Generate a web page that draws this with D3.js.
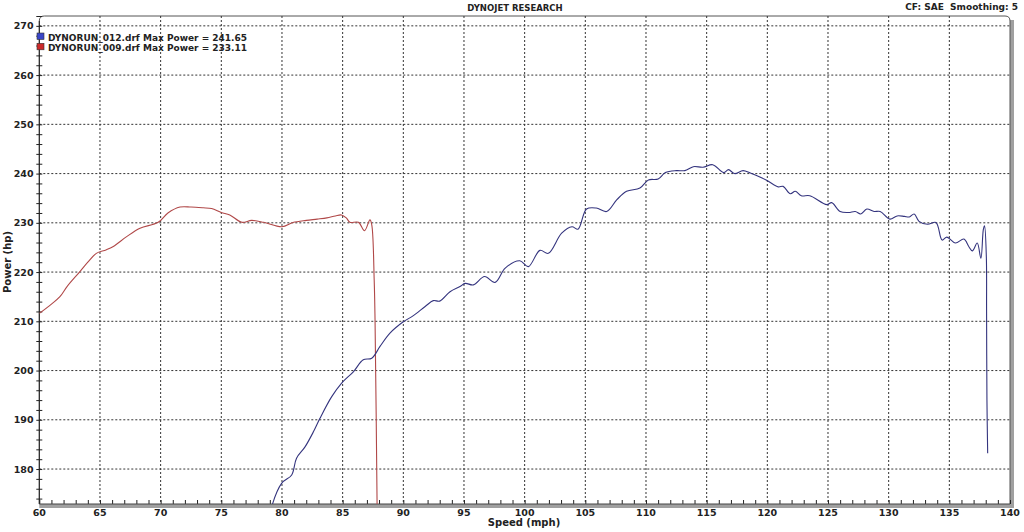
<!DOCTYPE html>
<html>
<head>
<meta charset="utf-8">
<script src="https://cdn.jsdelivr.net/npm/d3@7"></script>
<style>
  body { margin: 0; background: #fff; }
  text { font-family: "DejaVu Sans", Verdana, sans-serif; font-weight: bold; fill: #222; }
</style>
</head>
<body>
<script>
// run 012 (blue) - speed in mph, power in hp
var run012Speed = [79.0, 79.15, 79.97, 80.8, 81.2, 81.9, 82.6, 83.13, 84.1, 84.9, 85.9, 86.7, 87.4, 88.08, 88.9,
  90.0, 90.8, 91.8, 92.47, 93.0, 93.85, 94.67, 95.1, 95.77, 96.7, 97.56, 98.4, 99.6, 100.3, 101.26, 101.95,
  103.05, 103.9, 104.4, 105.1, 105.9, 106.76, 107.6, 108.4, 109.5, 110.2, 111.0, 111.6, 112.5, 113.2, 113.9,
  114.7, 115.5, 116.4, 116.8, 117.3, 118.0, 118.6, 119.9, 120.9, 121.3, 121.9, 122.3, 122.8, 123.5, 124.9,
  125.3, 126.0, 126.7, 127.25, 127.7, 128.2, 128.8, 129.3, 130.1, 130.7, 131.3, 131.7, 132.1, 132.5, 133.2,
  133.9, 134.4, 134.8, 135.5, 136.2, 136.6, 136.9, 137.3, 137.6, 137.8, 137.9, 138.05, 138.07, 138.1, 138.16];
var run012Power = [170, 172.3, 177.1, 178.8, 182.2, 184.5, 187.6, 190.3, 194.7, 197.4, 199.8, 202.2, 202.5, 204.9, 207.6,
  209.9, 211.1, 213.0, 214.2, 214.1, 216.0, 217.05, 217.7, 217.4, 219.1, 217.9, 220.8, 222.3, 221.1, 224.4, 223.8,
  227.9, 229.2, 228.7, 232.8, 233.0, 232.3, 234.7, 236.4, 237.05, 238.7, 238.9, 240.2, 240.6, 240.6, 241.4,
  241.3, 241.8, 240.2, 240.8, 240.0, 240.6, 240.1, 238.7, 237.3, 237.4, 235.9, 236.4, 235.5, 235.5, 233.7,
  234.1, 232.3, 232.1, 232.3, 231.8, 232.8, 232.3, 232.3, 230.75, 231.4, 231.3, 231.2, 231.8, 230.3, 229.7,
  230.06, 226.5, 227.1, 225.9, 226.7, 225.2, 224.3, 225.9, 222.8, 228.6, 229.4, 223.1, 212, 194, 183.2];

// run 009 (red)
var run009Speed = [60.0, 61.0, 61.7, 62.3, 63.35, 64.0, 64.7, 65.5, 66.1, 67.2, 68.3, 69.8, 70.6, 71.6, 72.5,
  73.5, 74.2, 75.0, 75.7, 76.7, 77.5, 78.5, 80.0, 80.9, 82.0, 82.9, 83.7, 84.4, 84.9, 85.3, 85.6, 86.3,
  86.8, 87.25, 87.4, 87.6, 87.67, 87.85];
var run009Power = [211.6, 213.5, 215.0, 217.1, 220.1, 222.0, 223.8, 224.5, 225.2, 227.2, 228.9, 230.1, 232.0, 233.2, 233.2,
  233.05, 232.9, 232.1, 231.6, 230.1, 230.5, 230.1, 229.2, 230.06, 230.5, 230.75, 231.0, 231.4, 231.6, 231.0, 230.1, 230.1,
  228.4, 230.6, 229.6, 218.4, 210.3, 170];

var legendLabels = ["DYNORUN_012.drf Max Power = 241.65", "DYNORUN_009.drf Max Power = 233.11"];
var xTicks = [60, 65, 70, 75, 80, 85, 90, 95, 100, 105, 110, 115, 120, 125, 130, 135, 140];
var yTicks = [180, 190, 200, 210, 220, 230, 240, 250, 260, 270];

var width = 1024, height = 532;
// plot box edges in pixels
var pL = 39.3, pR = 1010, pT = 16, pB = 504;

var x = d3.scaleLinear().domain([60, 140]).range([pL, pR]);
var y = d3.scaleLinear().domain([172.9, 272]).range([pB, pT]);

var svg = d3.select("body").append("svg")
    .attr("width", width)
    .attr("height", height);

// frame shadow on the right and bottom
svg.append("rect")
    .attr("x", pR).attr("y", pT + 4)
    .attr("width", 4).attr("height", pB - pT)
    .attr("fill", "#a0a0a0");
svg.append("rect")
    .attr("x", pL).attr("y", pB)
    .attr("width", pR - pL + 4).attr("height", 4)
    .attr("fill", "#a0a0a0");

// frame (rounded top corners)
svg.append("path")
    .attr("d", "M" + pL + "," + pB + " V" + (pT + 5) + " Q" + pL + "," + pT + " " + (pL + 5) + "," + pT +
      " H" + (pR - 5) + " Q" + pR + "," + pT + " " + pR + "," + (pT + 5) + " V" + pB)
    .attr("fill", "none")
    .attr("stroke", "#555")
    .attr("stroke-width", 1);

// grid
svg.append("g").selectAll("line")
    .data(xTicks.filter(function(d) { return d > 60 && d < 140; }))
    .enter().append("line")
    .attr("x1", function(d) { return x(d); }).attr("x2", function(d) { return x(d); })
    .attr("y1", pT).attr("y2", pB)
    .attr("stroke", "#333").attr("stroke-dasharray", "2,2");
svg.append("g").selectAll("line")
    .data(yTicks)
    .enter().append("line")
    .attr("x1", pL).attr("x2", pR)
    .attr("y1", function(d) { return y(d); }).attr("y2", function(d) { return y(d); })
    .attr("stroke", "#333").attr("stroke-dasharray", "2,2");

// y axis: ticks every 2 hp crossing the axis line
var yAxis = d3.axisLeft(y)
    .tickValues(d3.range(174, 273, 2))
    .tickSize(0)
    .tickFormat("");
var yG = svg.append("g").attr("transform", "translate(" + pL + ",0)").call(yAxis);
yG.select(".domain").remove();
yG.selectAll(".tick").append("line")
    .attr("x1", -3).attr("x2", 3)
    .attr("stroke", "#222");
svg.append("line")
    .attr("x1", pL).attr("x2", pL)
    .attr("y1", pT + 5).attr("y2", pB)
    .attr("stroke", "#222");
svg.append("g").selectAll("text")
    .data(yTicks)
    .enter().append("text")
    .attr("x", 33.5)
    .attr("y", function(d) { return y(d) + 3.5; })
    .attr("text-anchor", "end")
    .style("font-size", "9.5px")
    .text(function(d) { return d; });

// x axis: ticks every 1 mph above the gray bar
var xAxis = d3.axisTop(x)
    .tickValues(d3.range(60, 141, 1))
    .tickSize(4)
    .tickFormat("");
var xG = svg.append("g").attr("transform", "translate(0," + pB + ")").call(xAxis);
xG.select(".domain").remove();
xG.selectAll(".tick line").attr("stroke", "#222");
svg.append("line")
    .attr("x1", pL).attr("x2", pR)
    .attr("y1", pB).attr("y2", pB)
    .attr("stroke", "#444");
svg.append("g").selectAll("text")
    .data(xTicks)
    .enter().append("text")
    .attr("x", function(d) { return x(d); })
    .attr("y", 516)
    .attr("text-anchor", "middle")
    .style("font-size", "9.5px")
    .text(function(d) { return d; });

// clip curves to the plot
svg.append("clipPath").attr("id", "plot")
  .append("rect")
    .attr("x", pL).attr("y", pT)
    .attr("width", pR - pL).attr("height", pB - pT);

var line = d3.line()
    .x(function(d) { return x(d[0]); })
    .y(function(d) { return y(d[1]); })
    .curve(d3.curveCatmullRom.alpha(0.5));

svg.append("path")
    .datum(d3.zip(run009Speed, run009Power))
    .attr("clip-path", "url(#plot)")
    .attr("d", line)
    .attr("fill", "none")
    .attr("stroke", "#b04848")
    .attr("stroke-width", 1.1);

svg.append("path")
    .datum(d3.zip(run012Speed, run012Power))
    .attr("clip-path", "url(#plot)")
    .attr("d", line)
    .attr("fill", "none")
    .attr("stroke", "#34347e")
    .attr("stroke-width", 1.1);

// legend
var legendColors = ["#3a46c8", "#cc2a2a"];
var legend = svg.append("g").selectAll("g")
    .data(legendLabels)
    .enter().append("g")
    .attr("transform", function(d, i) { return "translate(0," + (i * 10.3) + ")"; });
legend.append("rect")
    .attr("x", 37).attr("y", 33)
    .attr("width", 7).attr("height", 6.5)
    .attr("fill", function(d, i) { return legendColors[i]; })
    .attr("stroke", "#333").attr("stroke-width", 0.6);
legend.append("text")
    .attr("x", 48).attr("y", 40.5)
    .style("font-size", "9px")
    .text(function(d) { return d; });

// titles
svg.append("text")
    .attr("x", 515).attr("y", 11)
    .attr("text-anchor", "middle")
    .style("font-size", "8.5px")
    .text("DYNOJET RESEARCH");
svg.append("text")
    .attr("x", 1018).attr("y", 10)
    .attr("text-anchor", "end")
    .style("font-size", "9px")
    .attr("xml:space", "preserve")
    .text("CF: SAE  Smoothing: 5");
svg.append("text")
    .attr("x", 524).attr("y", 526)
    .attr("text-anchor", "middle")
    .style("font-size", "10px")
    .text("Speed (mph)");
svg.append("text")
    .attr("transform", "translate(11,262) rotate(-90)")
    .attr("text-anchor", "middle")
    .style("font-size", "10px")
    .text("Power (hp)");
</script>
</body>
</html>
